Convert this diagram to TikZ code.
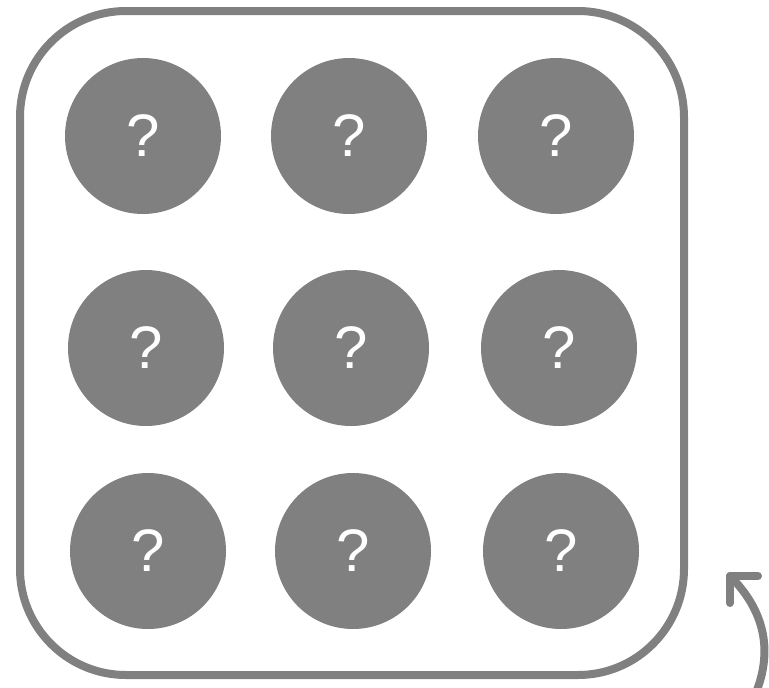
\documentclass[tikz,border=0pt]{standalone}
\usepackage{fontspec}
\setmainfont{Liberation Sans}
\definecolor{mgray}{HTML}{808080}
\tikzset{
  qcirc/.style={circle, fill=mgray, minimum size=156pt, inner sep=0pt, text=white, font=\fontsize{60}{60}\selectfont},
  frame/.style={draw=mgray, line width=8pt, rounded corners=106pt, minimum width=664pt, minimum height=664pt, inner sep=0pt},
  curl/.style={draw=mgray, line width=8pt, line cap=round, line join=round}
}
\begin{document}
\begin{tikzpicture}[x=1pt,y=-1pt]
\useasboundingbox (0,0) rectangle (769,688);
\node[frame] (box) at (352,343) {};
\node[qcirc] (c11) at (143,136) {?};
\node[qcirc] (c12) at (349,136) {?};
\node[qcirc] (c13) at (556,136) {?};
\node[qcirc] (c21) at (146,348) {?};
\node[qcirc] (c22) at (351,348) {?};
\node[qcirc] (c23) at (559,348) {?};
\node[qcirc] (c31) at (148,551) {?};
\node[qcirc] (c32) at (353,551) {?};
\node[qcirc] (c33) at (561,551) {?};
\coordinate (a0) at (757,690);
\coordinate (tip) at (730,576);
\coordinate (armh) at (758,576);
\coordinate (armv) at (730,603);
\draw[curl] (a0) .. controls (772,650) and (765,611) .. (tip);
\draw[curl] (armh) -- (tip) -- (armv);
\end{tikzpicture}
\end{document}
